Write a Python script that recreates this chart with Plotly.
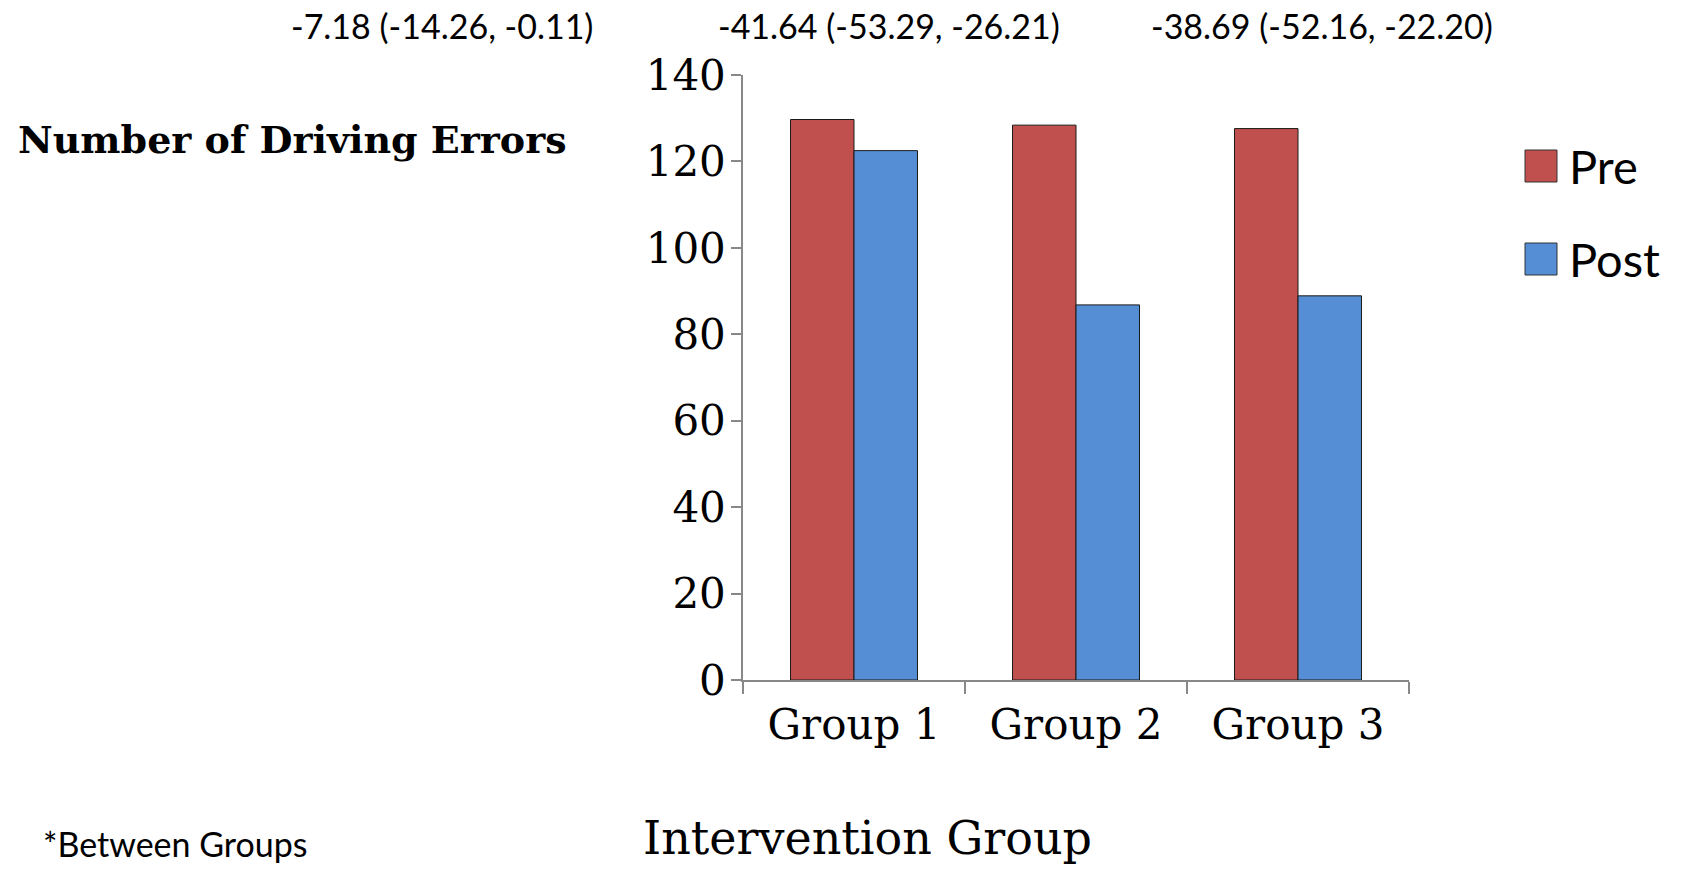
import plotly.graph_objects as go

categories = ["Group 1", "Group 2", "Group 3"]
pre_values = [129.7, 128.4, 127.6]
post_values = [122.5, 86.8, 88.9]
series_names = ["Pre", "Post"]
change_labels = ["-7.18 (-14.26, -0.11)", "-41.64 (-53.29, -26.21)", "-38.69 (-52.16, -22.20)"]
y_ticks = [0, 20, 40, 60, 80, 100, 120, 140]

RED = "#C0504D"
BLUE = "#558ED5"
W, H = 1683, 870
L, R, T, B = 743, 274, 75, 190


def px(x):
    return (x - L) / (W - L - R)


def py(y):
    return (H - B - y) / (H - T - B)


fig = go.Figure()
fig.add_trace(go.Bar(x=categories, y=pre_values, name=series_names[0],
                     marker=dict(color=RED, line=dict(color="#1a1a1a", width=1))))
fig.add_trace(go.Bar(x=categories, y=post_values, name=series_names[1],
                     marker=dict(color=BLUE, line=dict(color="#1a1a1a", width=1))))

annotations = []
for cx, txt in zip([442, 889, 1322], change_labels):
    annotations.append(dict(x=px(cx), y=py(25), xref="paper", yref="paper", text=txt,
                            showarrow=False, xanchor="center", yanchor="middle",
                            font=dict(family="Lato", size=34, color="black")))
annotations.append(dict(x=px(16), y=py(139), xref="paper", yref="paper",
                        text="<b>Number of Driving Errors</b>", showarrow=False,
                        xanchor="left", yanchor="middle",
                        font=dict(family="DejaVu Serif", size=38, color="black")))
annotations.append(dict(x=px(41), y=py(843), xref="paper", yref="paper",
                        text="*Between Groups", showarrow=False,
                        xanchor="left", yanchor="middle",
                        font=dict(family="Lato", size=34, color="black")))
annotations.append(dict(x=px(867), y=py(838), xref="paper", yref="paper",
                        text="Intervention Group", showarrow=False,
                        xanchor="center", yanchor="middle",
                        font=dict(family="DejaVu Serif", size=46, color="black")))

shapes = []
for name, color, cy in zip(series_names, [RED, BLUE], [166, 259]):
    shapes.append(dict(type="rect", xref="paper", yref="paper",
                       x0=px(1525), x1=px(1557), y0=py(cy - 16), y1=py(cy + 16),
                       fillcolor=color, line=dict(color="#333333", width=1)))
    annotations.append(dict(x=px(1567), y=py(cy), xref="paper", yref="paper",
                            text=name, showarrow=False, xanchor="left", yanchor="middle",
                            font=dict(family="Lato", size=47, color="black")))

fig.update_layout(
    width=W, height=H,
    margin=dict(l=L, r=R, t=T, b=B, pad=0),
    paper_bgcolor="white", plot_bgcolor="white",
    showlegend=False,
    barmode="group", bargap=0.428, bargroupgap=0,
    annotations=annotations, shapes=shapes,
    xaxis=dict(showline=True, linecolor="#888888", linewidth=1.5,
               ticks="outside", ticklen=12, tickcolor="#888888", tickwidth=1.5,
               tickson="boundaries", showgrid=False,
               tickfont=dict(family="DejaVu Serif", size=42, color="black"),
               ticklabelstandoff=7),
    yaxis=dict(range=[0, 140], tickvals=y_ticks, showline=True, linecolor="#888888",
               linewidth=1.5, ticks="outside", ticklen=10, tickcolor="#888888",
               tickwidth=1.5, showgrid=False, zeroline=False,
               tickfont=dict(family="DejaVu Serif", size=42, color="black"),
               ticklabelstandoff=-3),
)

fig.write_html("out.html", config={"displayModeBar": False},
               post_script="document.body.style.margin='0';")
